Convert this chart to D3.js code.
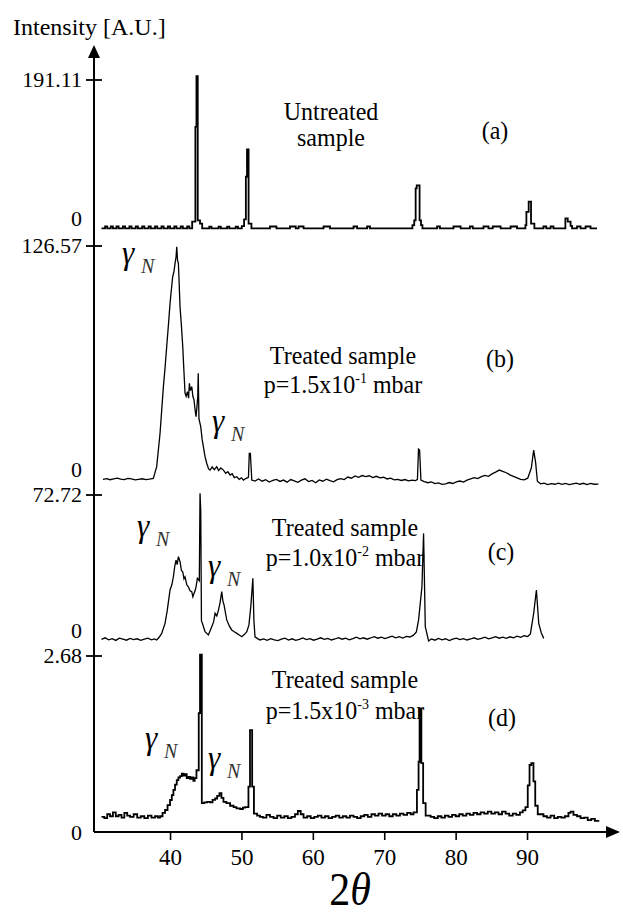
<!DOCTYPE html>
<html lang="en">
<head>
<meta charset="UTF-8">
<title>XRD patterns</title>
<style>
  body { margin: 0; background: #fff; }
  svg text { font-family: "Liberation Serif", "DejaVu Serif", "Noto Serif", serif; fill: #000; }
</style>
<script src="https://d3js.org/d3.v7.min.js"></script>
</head>
<body>
<svg id="chart" width="623" height="916"></svg>
<script>
// 2theta ticks and panel scale tops
var xTicks = [40, 50, 60, 70, 80, 90];
var topValues = [191.11, 126.57, 72.72, 2.68];
var topLabels = ["191.11", "126.57", "72.72", "2.68"];
var panelTags = ["(a)", "(b)", "(c)", "(d)"];
var sampleText = ["Untreated", "Treated sample", "Treated sample", "Treated sample"];
var pressureBase = ["sample", "p=1.5x10", "p=1.0x10", "p=1.5x10"];
var pressureExp = ["", "-1", "-2", "-3"];

// [2theta, intensity]
var untreated = [[30.4,0.8],[30.9,3.2],[31.2,0.8],[31.7,3.2],[32.0,0.8],[32.5,3.2],[32.8,0.8],[33.4,3.2],[33.7,0.8],[34.3,3.2],[34.6,0.8],[35.2,3.2],[35.5,0.8],[36.1,3.2],[36.4,0.8],[37.0,3.2],[37.3,0.8],[37.9,3.2],[38.2,0.8],[38.8,3.2],[39.1,0.8],[39.7,3.2],[40.0,0.8],[40.6,3.2],[40.9,0.8],[41.5,3.2],[41.8,0.8],[42.4,3.2],[42.7,0.8],
  [43.1,9.4],[43.55,131],[43.7,196],[43.88,11],[44.2,7],[44.5,0.8],[45.5,3.0],[45.8,0.8],[46.8,3.0],[47.1,0.8],[48.0,3.0],[48.3,0.8],[49.2,3.0],[49.5,0.8],
  [50.05,3.8],[50.37,12.4],[50.62,67],[50.78,102],[51.0,7],[51.4,0.8],[54.0,3.2],[54.9,0.8],[56.8,3.2],[57.6,0.8],[58.0,3.2],[58.7,0.8],[61.5,3.2],[62.4,0.8],[65.7,3.2],[66.2,0.8],[67.6,3.2],[68.0,0.8],
  [73.95,5],[74.2,11],[74.4,52],[74.55,56],[74.95,11],[75.15,5],[75.35,0.8],[77.4,3.2],[77.8,0.8],[79.7,3.2],[80.7,0.8],[82.0,3.2],[82.4,0.8],[83.9,3.2],[84.6,0.8],[85.2,3.2],[86.3,0.8],[87.7,3.2],[88.6,0.8],
  [89.77,5],[89.91,22],[90.23,35],[90.56,7],[91.03,0.8],[92.3,3.2],[92.7,0.8],[93.3,3.2],[93.7,0.8],[95.37,13.7],[95.7,9.4],[96.1,4],[96.3,0.8],[97.0,3.2],[97.5,0.8],[98.2,3.2],[98.9,0.8],[99.8,0.8]];

var treated15e1 = [[30.6,3.0],[31.1,3.4],[31.6,2.8],[32.1,3.3],[32.6,3.6],[33.1,3.1],[33.6,2.9],[34.1,3.5],[34.6,3.2],[35.1,2.7],[35.6,3.0],[36.1,3.3],[36.6,2.9],[37.1,3.1],[37.66,3.5],
  [38.13,9.7],[38.6,27.4],[39.07,52.1],[39.3,62],[39.53,73.2],[39.8,86],[40.0,96.2],[40.2,104],[40.37,110.3],[40.55,113],[40.7,117.4],[40.85,121],[40.94,126.2],[41.05,119],[41.17,117.4],
  [41.4,94.4],[41.6,84],[41.78,73.2],[41.95,60],[42.1,48.6],[42.25,47],[42.43,49.4],[42.6,46],[42.71,53.9],[42.85,50],[43.04,52.1],[43.2,47],[43.36,45],[43.5,40],[43.64,36.2],[43.76,41],[43.88,46.8],
  [43.95,59.2],[44.05,35],[44.3,30.9],[44.5,24],[44.67,20.3],[44.9,15],[45.14,11.5],[45.4,8.5],[45.61,7.9],[45.9,9.6],[46.2,8.1],[46.54,9.7],[46.8,7.6],[47.1,9.0],[47.48,7.9],[47.8,6.2],[48.1,7.0],
  [48.41,5.3],[48.7,6.0],[49.0,3.9],[49.35,4.4],[49.7,3.0],[50.0,3.8],[50.28,2.6],[50.6,3.4],[50.98,4.1],[51.1,16.8],[51.25,16.8],[51.45,2.6],
  [51.9,2.1],[52.4,3.2],[52.9,2.0],[53.4,2.8],[53.9,1.6],[54.4,2.4],[54.9,3.0],[55.4,1.9],[55.9,2.6],[56.4,1.5],[56.9,2.9],[57.4,2.2],[57.9,1.4],[58.4,2.6],[58.9,3.3],[59.4,1.8],[59.9,2.4],[60.4,1.2],
  [60.9,2.7],[61.4,2.0],[61.9,3.1],[62.4,2.3],[62.9,1.7],[63.4,2.8],[63.9,3.4],[64.4,2.9],[64.9,4.2],[65.4,3.6],[65.9,4.8],[66.4,4.1],[66.9,5.0],[67.4,4.4],[67.9,4.9],[68.4,3.9],[68.9,4.6],[69.4,3.8],
  [69.9,4.1],[70.4,3.2],[70.9,3.6],[71.4,2.7],[71.9,3.0],[72.4,2.4],[72.9,2.9],[73.4,2.2],[73.9,2.6],[74.4,2.3],[74.65,3.0],[74.8,19.0],[74.95,18.5],[75.14,2.6],[75.6,1.8],[76.1,1.2],[76.6,1.6],
  [77.1,0.7],[77.6,1.1],[78.1,0.3],[78.6,0.6],[79.1,1.3],[79.6,0.8],[80.1,1.6],[80.6,2.1],[81.1,1.5],[81.6,2.6],[82.1,3.2],[82.6,3.9],[83.1,3.4],[83.6,4.4],[84.1,5.1],[84.6,4.6],[85.1,5.9],
  [85.6,6.8],[86.1,7.9],[86.6,7.2],[87.1,6.5],[87.6,5.4],[88.1,4.6],[88.6,3.8],[89.1,3.0],[89.6,2.7],[90.1,3.6],[90.6,9.0],[90.93,18.5],[91.2,12],[91.45,2.0],[91.9,0.6],[92.4,1.0],[92.9,0.2],
  [93.4,0.7],[93.9,0.4],[94.4,1.0],[94.9,0.3],[95.4,0.8],[95.9,0.2],[96.4,0.6],[96.9,1.0],[97.4,0.4],[97.9,0.9],[98.4,0.2],[98.9,0.8],[99.4,0.4],[100.0,0.5]];

var treated10e2 = [[30.4,0.8],[30.9,1.6],[31.4,0.6],[31.9,1.2],[32.4,0.3],[32.9,1.4],[33.4,0.9],[33.9,0.4],[34.4,1.3],[34.9,0.7],[35.4,1.1],[35.9,0.3],[36.4,0.9],[36.9,1.4],[37.4,0.6],[37.8,1.0],
  [38.13,0.5],[38.5,2.0],[38.83,3.8],[39.3,8.8],[39.6,15],[40.0,25.4],[40.25,28],[40.47,32],[40.65,37],[40.84,40.3],[41.0,38],[41.17,42],[41.4,39.5],[41.6,35],[41.78,34.5],[41.95,31],[42.1,32],
  [42.35,28],[42.57,27],[42.8,25],[43.04,24.6],[43.2,22],[43.36,23.7],[43.5,25],[43.64,27],[43.83,31.2],[44.1,30],[44.2,73.6],[44.3,65],[44.4,10],[44.53,8.8],[44.9,4.6],[45.37,3.0],[45.84,7.1],
  [46.1,9.5],[46.31,13.8],[46.55,12.5],[46.78,15.4],[47.0,19],[47.24,24.6],[47.4,20],[47.57,17.9],[47.94,10.5],[48.3,7.5],[48.64,5.5],[49.0,4.6],[49.35,3.8],[49.7,3.0],[50.05,2.1],[50.4,3.2],
  [50.75,4.6],[51.05,8],[51.31,17.1],[51.6,31.2],[51.75,10],[51.9,2.1],[52.25,1.2],[52.6,0.5],
  [53.1,1.0],[53.6,0.3],[54.1,1.2],[54.6,0.6],[55.1,0.2],[55.6,0.9],[56.1,1.4],[56.6,0.5],[57.1,1.1],[57.6,0.3],[58.1,0.8],[58.6,1.5],[59.1,0.7],[59.6,1.2],[60.1,0.4],[60.6,0.9],[61.1,1.6],
  [61.6,0.8],[62.1,1.3],[62.6,0.5],[63.1,1.0],[63.6,1.7],[64.1,0.9],[64.6,1.4],[65.1,0.6],[65.6,1.2],[66.1,1.9],[66.6,1.1],[67.1,1.6],[67.6,0.9],[68.1,1.5],[68.6,2.2],[69.1,1.4],[69.6,1.9],
  [70.1,1.2],[70.6,1.8],[71.1,2.4],[71.6,1.6],[72.1,2.2],[72.6,1.5],[73.1,2.3],[73.6,2.0],[74.1,2.9],[74.5,4.5],[74.81,10.5],[75.28,27],[75.51,53.6],[75.75,7.1],[76.21,0],
  [76.6,1.0],[77.1,0.4],[77.6,1.3],[78.1,0.6],[78.6,1.1],[79.1,0.2],[79.6,0.9],[80.1,1.4],[80.6,0.7],[81.1,1.2],[81.6,0.5],[82.1,1.0],[82.6,1.6],[83.1,0.8],[83.6,1.3],[84.1,1.9],[84.6,1.1],
  [85.1,1.6],[85.6,2.2],[86.1,1.4],[86.6,1.9],[87.1,1.3],[87.6,2.1],[88.1,1.6],[88.6,2.4],[89.1,1.8],[89.6,2.6],[90.1,2.2],[90.47,3.5],[90.93,13.8],[91.31,25.4],[91.64,8.8],[92.0,4.0],[92.34,1.3]];

var treated15e3 = [[30.4,0.23],[30.8,0.21],[31.2,0.27],[31.6,0.24],[32.0,0.30],[32.4,0.24],[32.8,0.26],[33.2,0.22],[33.6,0.29],[34.0,0.25],[34.4,0.23],[34.9,0.27],[35.4,0.22],[35.9,0.24],
  [36.4,0.21],[36.9,0.25],[37.4,0.22],[37.9,0.24],[38.3,0.22],[38.6,0.24],[38.95,0.29],[39.3,0.335],[39.65,0.41],[40.0,0.487],[40.25,0.56],[40.47,0.64],[40.7,0.72],[40.94,0.79],[41.17,0.83],
  [41.4,0.85],[41.65,0.89],[41.87,0.86],[42.1,0.88],[42.34,0.82],[42.57,0.84],[42.8,0.81],[43.04,0.83],[43.27,0.78],[43.45,0.82],[43.7,0.94],[44.02,1.81],[44.2,2.70],[44.45,0.44],[44.8,0.45],
  [45.2,0.46],[45.61,0.45],[45.95,0.49],[46.31,0.51],[46.6,0.55],[46.92,0.59],[47.2,0.52],[47.48,0.46],[47.9,0.44],[48.41,0.40],[48.9,0.38],[49.3,0.36],[49.81,0.35],[50.2,0.37],[50.51,0.38],
  [50.98,0.69],[51.2,1.55],[51.5,0.69],[51.75,0.28],[52.2,0.25],[52.6,0.23],[53.0,0.22],[53.5,0.26],[54.0,0.23],[54.5,0.21],[55.0,0.25],[55.5,0.22],[56.0,0.24],[56.5,0.21],[57.0,0.23],[57.5,0.27],
  [57.9,0.32],[58.3,0.27],[58.7,0.22],[59.2,0.24],[59.7,0.21],[60.2,0.23],[60.7,0.25],[61.2,0.22],[61.7,0.24],[62.2,0.21],[62.7,0.23],[63.2,0.25],[63.7,0.22],[64.2,0.24],[64.7,0.22],[65.2,0.25],
  [65.7,0.23],[66.2,0.21],[66.7,0.24],[67.2,0.26],[67.7,0.23],[68.2,0.27],[68.7,0.25],[69.2,0.28],[69.7,0.25],[70.2,0.27],[70.7,0.24],[71.2,0.27],[71.7,0.25],[72.2,0.28],[72.7,0.26],[73.2,0.29],
  [73.7,0.27],[74.1,0.30],[74.58,0.64],[74.81,1.07],[74.95,1.88],[75.2,1.05],[75.45,0.44],[75.8,0.25],[76.5,0.23],[77.0,0.21],[77.5,0.24],[78.0,0.22],[78.5,0.25],[79.0,0.23],[79.5,0.26],[80.0,0.24],
  [80.5,0.27],[81.0,0.25],[81.5,0.28],[82.0,0.26],[82.5,0.29],[83.0,0.27],[83.5,0.30],[84.0,0.28],[84.5,0.31],[85.0,0.28],[85.5,0.30],[86.0,0.27],[86.5,0.31],[87.0,0.28],[87.5,0.25],[88.0,0.28],
  [88.5,0.26],[89.0,0.30],[89.4,0.33],[89.77,0.38],[90.1,0.71],[90.35,1.02],[90.6,1.05],[90.9,0.77],[91.15,0.4],[91.5,0.27],[92.3,0.24],[92.8,0.22],[93.3,0.25],[93.8,0.21],[94.3,0.23],[94.8,0.22],
  [95.3,0.24],[95.8,0.29],[96.1,0.31],[96.5,0.26],[97.0,0.24],[97.5,0.21],[98.0,0.22],[98.5,0.18],[99.0,0.20],[99.5,0.17],[100.0,0.18]];

// layout of the four stacked panels (pixel rows of top tick and zero)
var axisX = 94, axisY = 832;
var serif = "'Liberation Serif', 'DejaVu Serif', 'Noto Serif', serif";
var panels = [
  { data: untreated,   yTop: 80,  yZero: 229, curve: d3.curveStepAfter, sw: 1.8, zeroDy: -3,
    txt: [331, 120, 146], tag: [495, 139], gam: [] },
  { data: treated15e1, yTop: 246, yZero: 485, curve: d3.curveLinear,    sw: 1.3, zeroDy: -8,
    txt: [343, 364, 393], tag: [500, 367], gam: [[122, 264], [212, 432]] },
  { data: treated10e2, yTop: 495, yZero: 641, curve: d3.curveLinear,    sw: 1.3, zeroDy: -3,
    txt: [345, 536, 566], tag: [501, 560], gam: [[137, 537], [208, 577]] },
  { data: treated15e3, yTop: 656, yZero: 832, curve: d3.curveStepAfter, sw: 1.8, zeroDy: 8,
    txt: [345, 688, 719], tag: [502, 726], gam: [[145, 749], [208, 769]] }
];

var svg = d3.select("#chart");
var x = d3.scaleLinear().domain([29.35, 101.9]).range([axisX, 612]);
var stretch = 1.08;

function putText(str, px, py, size, anchor, k) {
  return svg.append("text")
    .attr("transform", "translate(" + px + "," + py + ") scale(1," + (k || 1) + ")")
    .attr("font-family", serif)
    .attr("font-size", size)
    .attr("text-anchor", anchor || "start")
    .text(str);
}

// curves
panels.forEach(function(p, i) {
  var y = d3.scaleLinear().domain([0, topValues[i]]).range([p.yZero, p.yTop]);
  var line = d3.line()
    .x(function(d) { return x(d[0]); })
    .y(function(d) { return y(d[1]); })
    .curve(p.curve);
  svg.append("path")
    .datum(p.data)
    .attr("d", line)
    .attr("fill", "none")
    .attr("stroke", "#000")
    .attr("stroke-width", p.sw);

  // top tick "+" and label
  svg.append("line")
    .attr("x1", axisX - 8).attr("x2", axisX + 8)
    .attr("y1", y(topValues[i])).attr("y2", y(topValues[i]))
    .attr("stroke", "#000").attr("stroke-width", 1.8);
  putText(topLabels[i], 82, y(topValues[i]) + 7, 22, "end", 1);
  putText("0", 82, y(0) + p.zeroDy, 22, "end", 1);

  // sample annotation
  putText(sampleText[i], p.txt[0], p.txt[1], 24, "middle", stretch);
  var t = svg.append("text")
    .attr("transform", "translate(" + p.txt[0] + "," + p.txt[2] + ") scale(1," + stretch + ")")
    .attr("font-family", serif)
    .attr("font-size", 24)
    .attr("text-anchor", "middle");
  t.append("tspan").text(pressureBase[i]);
  if (pressureExp[i]) {
    t.append("tspan").attr("dy", -9).attr("font-size", 14).text(pressureExp[i]);
    t.append("tspan").attr("dy", 9).text(" mbar");
  }
  putText(panelTags[i], p.tag[0], p.tag[1], 24, "middle", stretch);

  // gamma_N labels
  p.gam.forEach(function(g) {
    putText("\u03B3", g[0], g[1], 31, "start", 1.1).attr("font-style", "italic");
    putText("N", g[0] + 19, g[1] + 9, 20, "start", 1.05)
      .attr("font-style", "italic").style("fill", "#333");
  });
});

// y axis with arrow
svg.append("line")
  .attr("x1", axisX).attr("x2", axisX)
  .attr("y1", 56).attr("y2", axisY)
  .attr("stroke", "#000").attr("stroke-width", 2);
svg.append("path")
  .attr("d", "M" + axisX + ",45 L" + (axisX - 6) + ",58 L" + (axisX + 6) + ",58 Z")
  .attr("fill", "#000");

// x axis with arrow
var xAxis = d3.axisBottom(x).tickValues(xTicks).tickSize(8).tickSizeOuter(0).tickPadding(9);
var gx = svg.append("g").attr("transform", "translate(0," + axisY + ")").call(xAxis);
gx.select(".domain").attr("stroke-width", 2).attr("d", "M" + axisX + ",0H612");
gx.selectAll(".tick line").attr("stroke-width", 1.6);
gx.selectAll(".tick text")
  .attr("font-family", serif)
  .attr("font-size", 23).attr("fill", "#000");
svg.append("path")
  .attr("d", "M620," + axisY + " L606," + (axisY - 6) + " L606," + (axisY + 6) + " Z")
  .attr("fill", "#000");

// axis titles
putText("Intensity [A.U.]", 13, 35, 24, "start", 1);
var xt = svg.append("text")
  .attr("transform", "translate(350,905) scale(1,1.1)")
  .attr("font-family", serif)
  .attr("font-size", 42)
  .attr("text-anchor", "middle");
xt.append("tspan").text("2");
xt.append("tspan").attr("font-style", "italic").text("\u03B8");
</script>
</body>
</html>
